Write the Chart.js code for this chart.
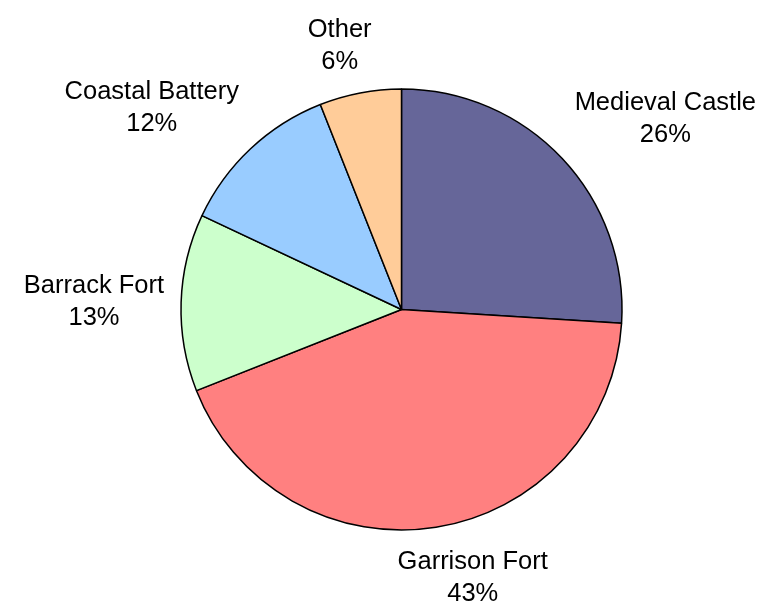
<!DOCTYPE html>
<html>
<head>
<meta charset="utf-8">
<script src="https://cdn.jsdelivr.net/npm/chart.js@4"></script>
<style>
  html, body { margin: 0; padding: 0; background: #ffffff; }
  #wrap { width: 758px; height: 601px; }
</style>
</head>
<body>
<div id="wrap"><canvas id="c" width="758" height="601"></canvas></div>
<script>
const categories = ["Medieval Castle", "Garrison Fort", "Barrack Fort", "Coastal Battery", "Other"];
const values = [26, 43, 13, 12, 6];
const percentLabels = ["26%", "43%", "13%", "12%", "6%"];
const sliceColors = ["#666699", "#FF8080", "#CCFFCC", "#99CCFF", "#FFCC99"];

const outsideLabels = {
  id: 'outsideLabels',
  afterDraw(chart) {
    const ctx = chart.ctx;
    const meta = chart.getDatasetMeta(0);
    const fontSize = 25.5;
    const capH = 18;
    const pitch = 32;
    const gapX = 17;
    const gapY = 24;
    const k = 2.9;
    const clamp = v => Math.max(-1, Math.min(1, v));
    ctx.save();
    ctx.font = fontSize + 'px "Liberation Sans", Arial, sans-serif';
    ctx.fillStyle = '#000000';
    ctx.textAlign = 'center';
    ctx.textBaseline = 'alphabetic';
    meta.data.forEach((arc, i) => {
      const p = arc.getProps(['x', 'y', 'startAngle', 'endAngle', 'outerRadius'], true);
      const mid = (p.startAngle + p.endAngle) / 2;
      const sx = Math.cos(mid), sy = Math.sin(mid);
      const ax = p.x + (p.outerRadius + gapX) * sx;
      const ay = p.y + (p.outerRadius + gapY) * sy;
      const l1 = categories[i], l2 = percentLabels[i];
      const w = Math.max(ctx.measureText(l1).width, ctx.measureText(l2).width);
      const h = capH + pitch;
      const cx = ax + clamp(k * sx) * w / 2;
      const cy = ay + clamp(k * sy) * h / 2;
      ctx.fillText(l1, cx, cy - h / 2 + capH);
      ctx.fillText(l2, cx, cy + h / 2);
    });
    ctx.restore();
  }
};

new Chart(document.getElementById('c'), {
  type: 'pie',
  data: {
    labels: categories,
    datasets: [{
      data: values,
      backgroundColor: sliceColors,
      borderColor: '#000000',
      borderWidth: 1.5
    }]
  },
  options: {
    responsive: false,
    animation: false,
    layout: { padding: { top: 87.75, bottom: 69.75, left: 180.25, right: 135.25 } },
    plugins: {
      legend: { display: false },
      tooltip: { enabled: false }
    }
  },
  plugins: [outsideLabels]
});
</script>
</body>
</html>
